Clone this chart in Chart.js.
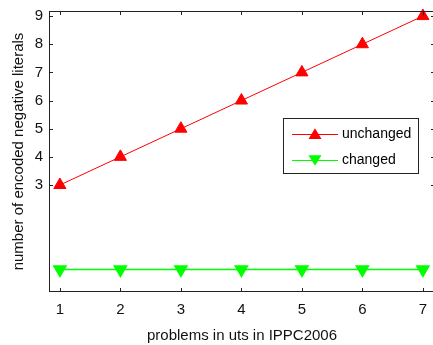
<!DOCTYPE html>
<html>
<head>
<meta charset="utf-8">
<script src="https://cdn.jsdelivr.net/npm/chart.js@4.4.1/dist/chart.umd.min.js"></script>
<style>
  html, body { margin: 0; padding: 0; background: #fff; overflow: hidden; }
  #wrap { width: 433px; height: 345px; overflow: hidden; }
</style>
</head>
<body>
<div id="wrap"><canvas id="c" width="435" height="345"></canvas></div>
<script>
// problem indices on the x axis
const problems = [1, 2, 3, 4, 5, 6, 7];
// encoded negative literals per problem
const unchanged = [3, 4, 5, 6, 7, 8, 9];
const changed = [0, 0, 0, 0, 0, 0, 0];
// labelled ticks
const xTicks = [1, 2, 3, 4, 5, 6, 7];
const yTicks = [3, 4, 5, 6, 7, 8, 9];

const FONT = "'Liberation Sans', Arial, sans-serif";
const AXIS = '#222';

// Box frame, inward tick marks on all four sides, and the boxed legend
const framePlugin = {
  id: 'frame',
  afterDatasetsDraw(chart) {
    const { ctx, chartArea: a, scales } = chart;
    ctx.save();
    ctx.strokeStyle = AXIS;
    ctx.lineWidth = 1;
    ctx.strokeRect(a.left + 0.5, a.top + 0.5, a.right - a.left - 1, a.bottom - a.top - 1);
    const L = 4;
    ctx.beginPath();
    xTicks.forEach(v => {
      const x = Math.round(scales.x.getPixelForValue(v)) + 0.5;
      ctx.moveTo(x, a.bottom); ctx.lineTo(x, a.bottom - L);
      ctx.moveTo(x, a.top); ctx.lineTo(x, a.top + L);
    });
    yTicks.forEach(v => {
      const y = Math.round(scales.y.getPixelForValue(v)) + 0.5;
      ctx.moveTo(a.left, y); ctx.lineTo(a.left + L, y);
      ctx.moveTo(a.right, y); ctx.lineTo(a.right - L, y);
    });
    ctx.stroke();

    // legend
    const bx = 283.5, by = 118.5, bw = 135, bh = 55;
    ctx.fillStyle = '#fff';
    ctx.fillRect(bx, by, bw, bh);
    ctx.strokeStyle = AXIS;
    ctx.strokeRect(bx, by, bw, bh);
    ctx.font = '14px ' + FONT;
    ctx.textBaseline = 'middle';
    chart.data.datasets.forEach((ds, i) => {
      const y = 134 + i * 26;
      ctx.strokeStyle = ds.borderColor;
      ctx.lineWidth = 1;
      ctx.beginPath();
      ctx.moveTo(292, y + 0.5); ctx.lineTo(338, y + 0.5);
      ctx.stroke();
      ctx.fillStyle = ds.pointBackgroundColor;
      ctx.beginPath();
      const r = 6.5;
      if (ds.pointRotation === 180) {
        ctx.moveTo(315 - r, y - r * 0.75); ctx.lineTo(315 + r, y - r * 0.75); ctx.lineTo(315, y + r * 0.9);
      } else {
        ctx.moveTo(315 - r, y + r * 0.75); ctx.lineTo(315 + r, y + r * 0.75); ctx.lineTo(315, y - r * 0.9);
      }
      ctx.closePath(); ctx.fill();
      ctx.fillStyle = '#000';
      ctx.fillText(ds.label, 342, y);
    });
    ctx.restore();
  }
};

new Chart(document.getElementById('c'), {
  type: 'line',
  data: {
    datasets: [
      {
        label: 'unchanged',
        data: problems.map((p, i) => ({ x: p, y: unchanged[i] })),
        borderColor: '#ff0000', backgroundColor: '#ff0000',
        pointBackgroundColor: '#ff0000', pointBorderColor: '#ff0000',
        pointStyle: 'triangle', pointRadius: 7, pointRotation: 0,
        borderWidth: 1, tension: 0, clip: false
      },
      {
        label: 'changed',
        data: problems.map((p, i) => ({ x: p, y: changed[i] })),
        borderColor: '#00ff00', backgroundColor: '#00ff00',
        pointBackgroundColor: '#00ff00', pointBorderColor: '#00ff00',
        pointStyle: 'triangle', pointRadius: 7, pointRotation: 180,
        borderWidth: 1.5, tension: 0, clip: false
      }
    ]
  },
  options: {
    responsive: false,
    animation: false,
    events: [],
    layout: { autoPadding: false, padding: { top: 11, right: 0, bottom: 0, left: 0 } },
    plugins: { legend: { display: false }, tooltip: { enabled: false } },
    scales: {
      x: {
        type: 'linear', min: 0.82, max: 7.2,
        afterBuildTicks(s) { s.ticks = xTicks.map(v => ({ value: v })); },
        afterFit(s) { s.height = 53; s.paddingLeft = 0; s.paddingRight = 0; },
        grid: { display: false, drawTicks: false },
        border: { display: false },
        ticks: { color: '#111', font: { family: FONT, size: 15 }, padding: 9, maxRotation: 0 },
        title: { display: true, text: 'problems in uts in IPPC2006', color: '#111',
                 font: { family: FONT, size: 15 }, padding: { top: 0, bottom: 0 } }
      },
      y: {
        type: 'linear', min: -0.8, max: 9.18,
        afterBuildTicks(s) { s.ticks = yTicks.map(v => ({ value: v })); },
        afterFit(s) { s.width = 49; s.paddingTop = 0; s.paddingBottom = 0; },
        grid: { display: false, drawTicks: false },
        border: { display: false },
        ticks: { color: '#111', font: { family: FONT, size: 15 }, padding: 6 },
        title: { display: true, text: 'number of encoded negative literals', color: '#111',
                 font: { family: FONT, size: 15 }, padding: { top: 10, bottom: 0 } }
      }
    }
  },
  plugins: [framePlugin]
});
</script>
</body>
</html>
